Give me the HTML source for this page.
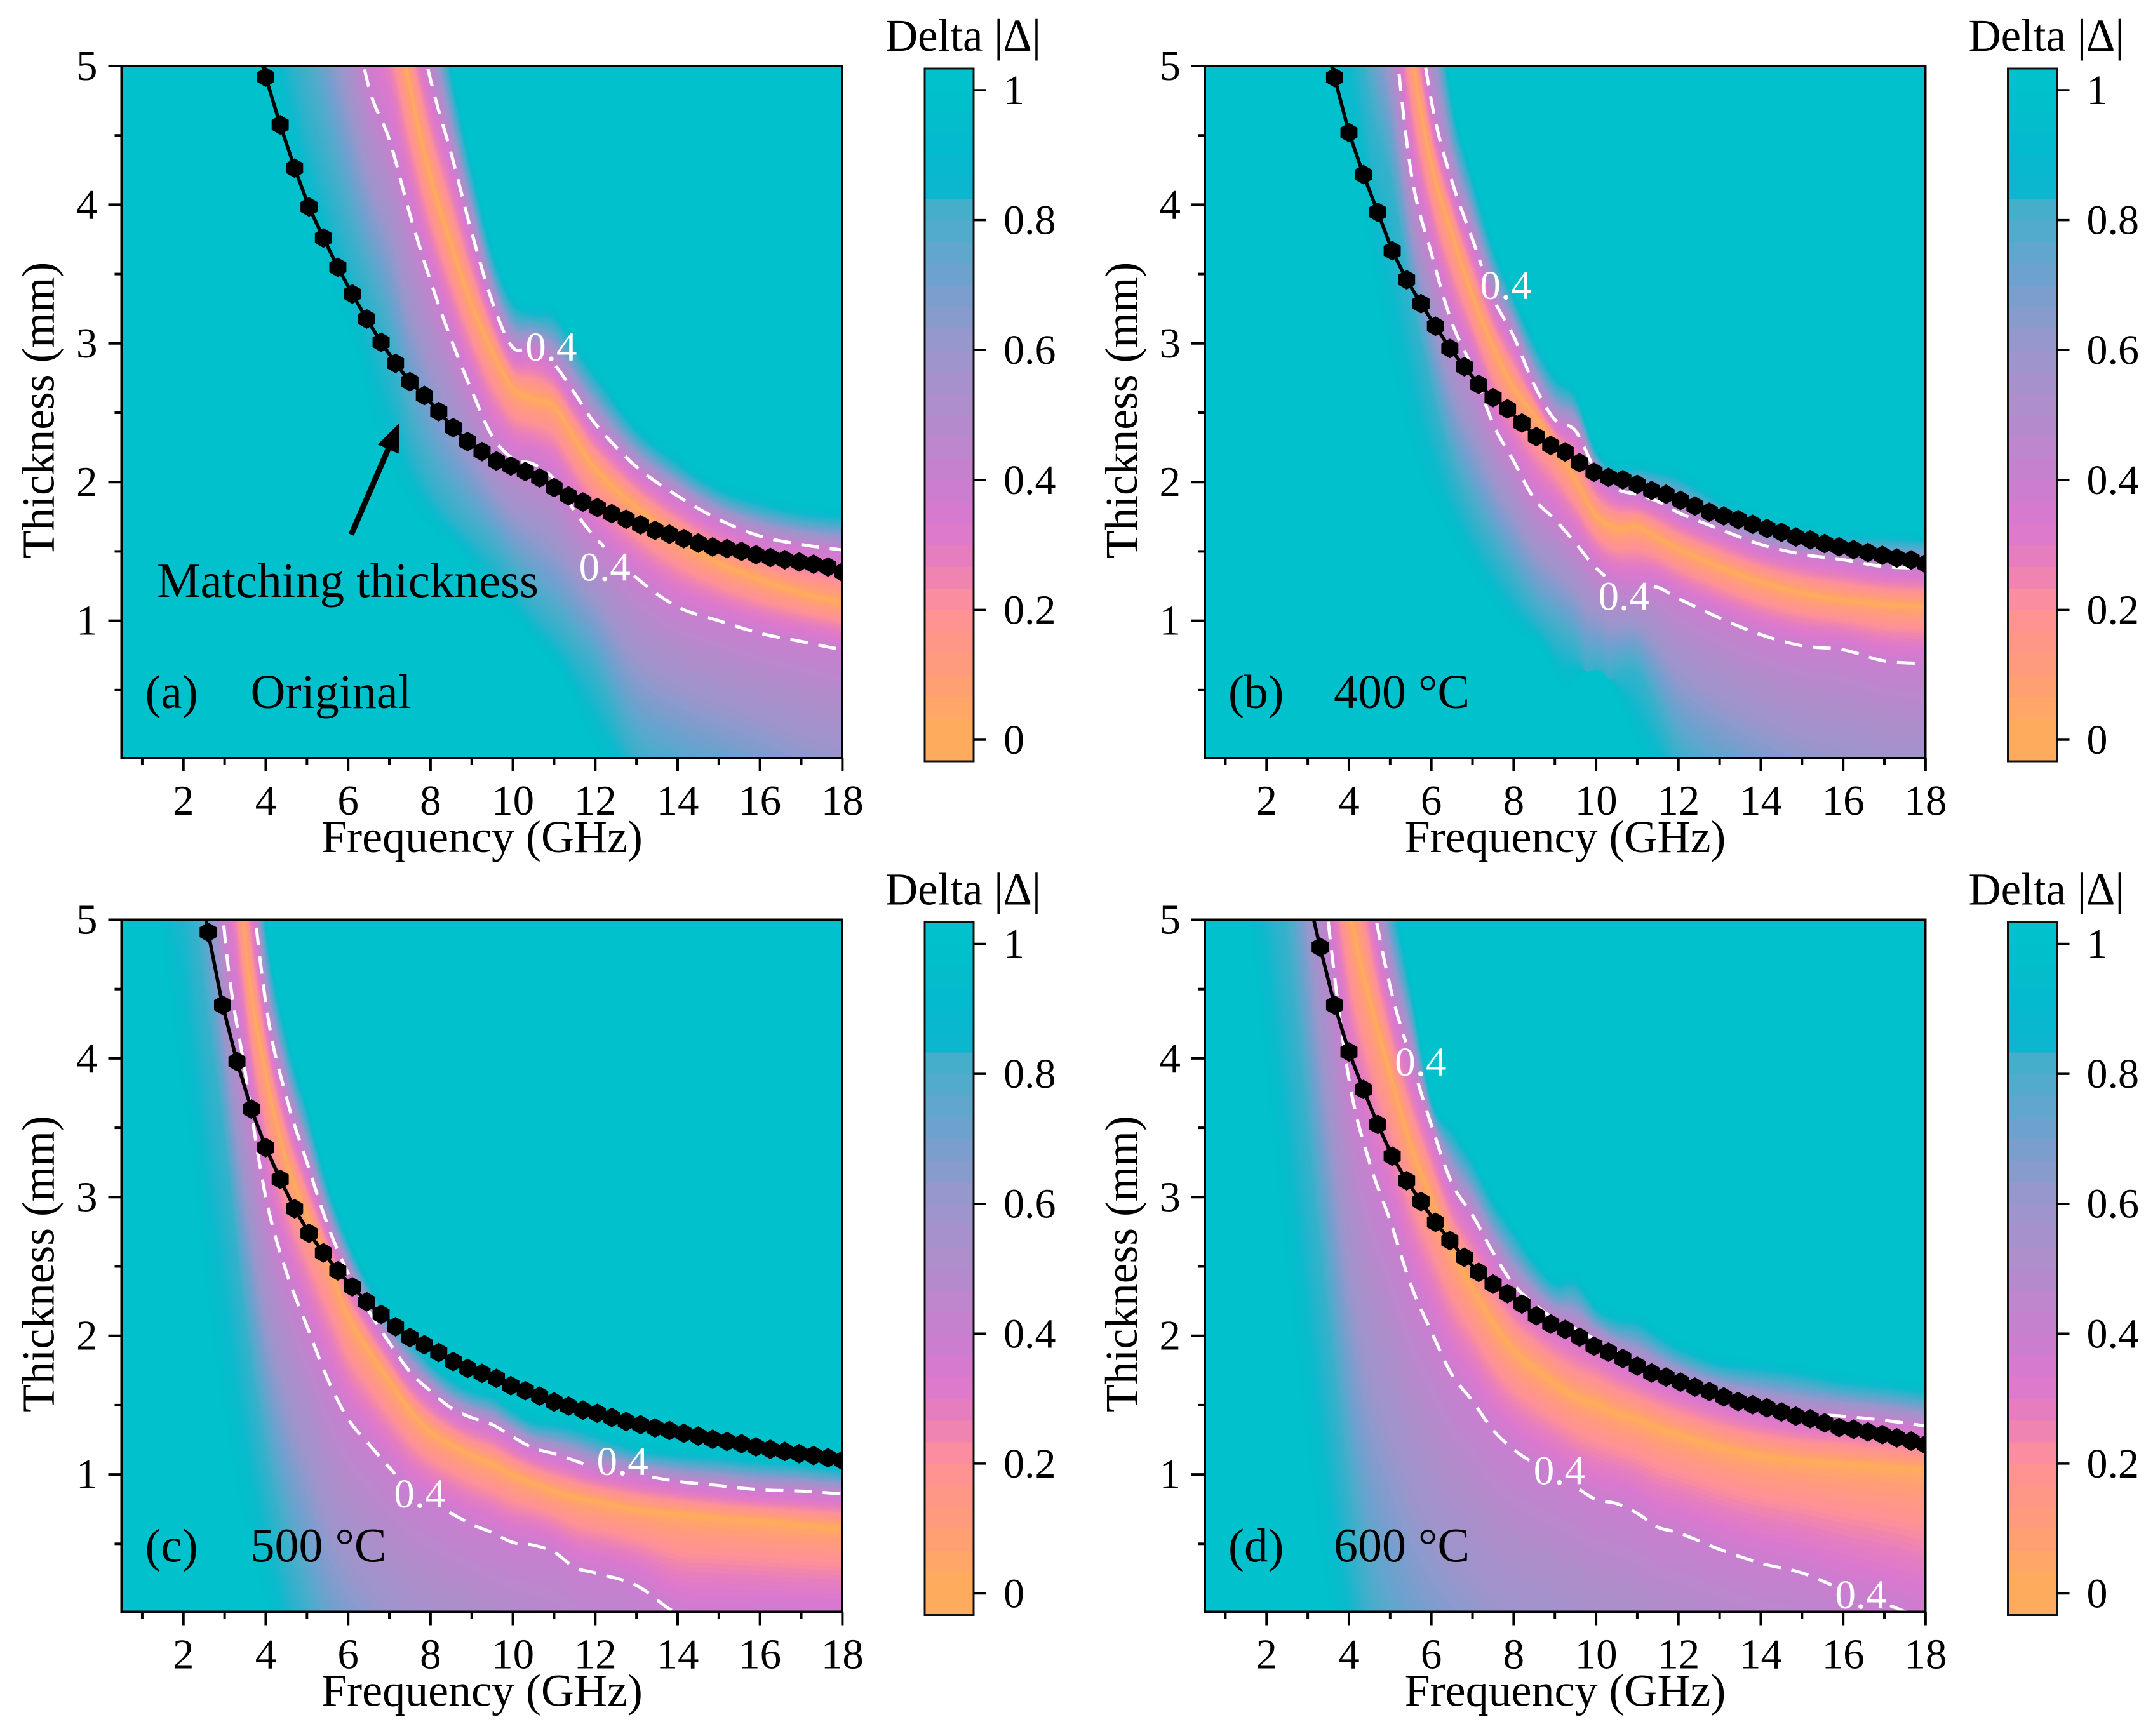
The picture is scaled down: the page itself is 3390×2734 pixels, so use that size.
<!DOCTYPE html>
<html lang="en">
<head>
<meta charset="utf-8">
<title>Delta maps of matching thickness versus frequency</title>
<style>
html,body{margin:0;padding:0;background:#fff;}
#figure{position:relative;width:3390px;height:2734px;overflow:hidden;background:#fff;}
#figure canvas{position:absolute;display:block;}
#overlay{position:absolute;left:0;top:0;}
#overlay text{font-family:"Liberation Serif","DejaVu Serif",serif;fill:#000;}
</style>
</head>
<body>
<div id="figure">
<svg id="overlay" width="3390" height="2734" viewBox="0 0 3390 2734" xmlns="http://www.w3.org/2000/svg"></svg>
</div>
<script>
/* ---------- shared tick values ---------- */
var xMajorTicks = [2,4,6,8,10,12,14,16,18];
var xMinorTicks = [1,3,5,7,9,11,13,15,17];
var yMajorTicks = [1,2,3,4,5];
var yMinorTicks = [0.5,1.5,2.5,3.5,4.5];
var colorbarTicks = [0,0.2,0.4,0.6,0.8,1];

/* ---------- frequency grids (GHz) ---------- */
var matchFreq = [0.5,0.85,1.2,1.55,1.9,2.25,2.6,2.95,3.3,3.65,4,4.35,4.7,5.05,5.4,5.75,6.1,6.45,6.8,7.15,7.5,7.85,8.2,8.55,8.9,9.25,9.6,9.95,10.3,10.65,11,11.35,11.7,12.05,12.4,12.75,13.1,13.45,13.8,14.15,14.5,14.85,15.2,15.55,15.9,16.25,16.6,16.95,17.3,17.65,18];
var contourFreq = [2,2.5,3,3.5,4,4.5,5,5.5,6,6.5,7,7.5,8,8.5,9,9.5,10,10.5,11,11.5,12,13,14,15,16,17,18];

/* ---------- colour scale of the colour bar: delta value, colour ---------- */
var colorStops = [0,0.1,0.2,0.27,0.33,0.4,0.5,0.6,0.7,0.83,0.84,0.9,1];
var colorValues = ['#FFAE57','#FF9D78','#FF9196','#E87FBB','#DB78CF','#C97FCF','#B18CCB','#9D95CC','#74A0CE','#3FB0CB','#0CB5CE','#05B9CE','#00C1CC'];
/* ---------- colour scale of the maps, softer near the outer edge ---------- */
var mapStops = [0,0.1,0.2,0.27,0.33,0.4,0.5,0.6,0.7,0.8,0.88,0.94,1];
var mapValues = ['#FFAE57','#FF9D78','#FF9196','#E87FBB','#DB78CF','#C97FCF','#B18CCB','#9D95CC','#74A0CE','#48ADCB','#2AB3CC','#0ABACD','#00C1CC'];

/* ---------- panel (a) Original: thickness in mm ---------- */
var aMatchT = [5.31,4.92,4.576,4.264,3.984,3.76,3.548,3.356,3.176,3.008,2.856,2.724,2.624,2.508,2.392,2.292,2.22,2.152,2.116,2.076,2.03,1.96,1.9,1.856,1.816,1.772,1.732,1.692,1.652,1.624,1.592,1.56,1.532,1.52,1.5,1.476,1.456,1.44,1.424,1.408,1.388,1.35];
var aLowerEdge = [9,8.5,8,7.4,6.4,5.4,4.7,4.2,3.75,3.35,2.95,2.35,2,1.78,1.63,1.5,1.3,1.1,0.95,0.78,0.6,0,-0.2,-0.35,-0.5,-0.7,-0.85];
var aLower04 = [20,17,15,13,11.5,10,8,6.5,5.6,4.85,4.47,3.93,3.45,3.03,2.66,2.33,2.17,2.13,2.02,1.79,1.6,1.31,1.1,1,0.91,0.85,0.79];
var aRidge = [25,22,19,17,15,13,11,9.5,8,6.8,5.7,4.85,4.2,3.72,3.28,2.95,2.68,2.6,2.55,2.32,2.1,1.82,1.6,1.42,1.3,1.2,1.13];
var aUpper04 = [26,23,20,18,16,14,12,10.5,9,7.9,6.6,5.6,4.9,4.37,3.8,3.3,2.97,2.97,2.85,2.64,2.42,2.11,1.9,1.73,1.61,1.55,1.51];
var aUpperEdge = [26.6,23.6,20.6,18.6,16.6,14.6,12.6,11,9.6,8.4,7.2,6.3,5.8,4.95,4.25,3.65,3.3,3.22,3.2,2.98,2.77,2.38,2.14,1.95,1.85,1.78,1.75];

/* ---------- panel (b) 400 C ---------- */
var bMatchT = [5.34,4.917,4.52,4.217,3.946,3.668,3.459,3.286,3.124,2.964,2.832,2.704,2.609,2.528,2.426,2.328,2.264,2.217,2.139,2.071,2.034,2.017,1.983,1.939,1.912,1.868,1.827,1.783,1.756,1.729,1.695,1.665,1.638,1.604,1.584,1.557,1.533,1.513,1.492,1.472,1.452,1.438,1.411];
var bLowerEdge = [10,9,8,7,5.8,4.7,4.15,3.35,2.65,2.1,1.75,1.5,1.27,1.05,0.9,0.78,0.52,0.62,0.62,0.32,0,-0.3,-0.5,-0.7,-0.85,-1,-1.1];
var bLower04 = [16,14,12,10,8,6.5,5.5,4.25,3.65,3.15,2.82,2.42,2.15,1.88,1.73,1.56,1.38,1.27,1.25,1.24,1.16,1.02,0.9,0.82,0.79,0.71,0.69];
var bRidge = [20,18,16,13,11,8.5,6.4,5.15,4.3,3.8,3.35,2.98,2.68,2.49,2.27,2.02,1.76,1.67,1.68,1.6,1.52,1.39,1.28,1.2,1.15,1.12,1.1];
var bUpper04 = [21,19,17,14,12,9.5,7.4,5.8,4.75,4.17,3.75,3.33,3.05,2.7,2.45,2.37,2.08,1.95,1.91,1.86,1.78,1.66,1.55,1.48,1.44,1.39,1.38];
var bUpperEdge = [21.5,19.5,17.5,14.6,12.6,10,8,6.8,5.9,4.75,4.18,3.68,3.33,3,2.75,2.62,2.22,2.09,2.1,2.07,2.03,1.86,1.73,1.64,1.6,1.6,1.58];

/* ---------- panel (c) 500 C ---------- */
var cMatchT = [5.56,4.91,4.384,3.978,3.635,3.357,3.128,2.916,2.739,2.598,2.468,2.353,2.245,2.154,2.065,1.987,1.935,1.879,1.814,1.765,1.729,1.693,1.64,1.604,1.565,1.523,1.493,1.464,1.441,1.411,1.382,1.359,1.336,1.317,1.297,1.277,1.254,1.238,1.222,1.199,1.182,1.166,1.15,1.137,1.12,1.101];
var cLowerEdge = [5.7,4.4,3.35,2.05,1.1,0.4,-0.1,-0.6,-0.9,-1.1,-1.3,-1.4,-1.5,-1.6,-1.7,-1.8,-1.9,-1.95,-2,-2.05,-2.1,-2.15,-2.2,-2.25,-2.3,-2.35,-2.4];
var cLower04 = [10,7,4.9,3.9,3,2.46,2.07,1.69,1.4,1.22,1.05,0.89,0.8,0.72,0.64,0.58,0.51,0.49,0.44,0.33,0.29,0.2,0,-0.02,-0.03,-0.04,-0.05];
var cRidge = [14,10,7,4.85,3.9,3.27,2.88,2.55,2.15,1.9,1.68,1.47,1.31,1.22,1.14,1.08,1,0.94,0.88,0.84,0.81,0.75,0.72,0.69,0.67,0.64,0.62];
var cUpper04 = [16,11.5,8,5.8,4.4,3.72,3.25,2.8,2.45,2.18,1.95,1.74,1.6,1.48,1.41,1.36,1.27,1.19,1.15,1.1,1.05,1,0.95,0.92,0.89,0.88,0.86];
var cUpperEdge = [17,12.5,9,6.5,4.95,4.15,3.63,3.08,2.68,2.37,2.13,1.98,1.8,1.68,1.6,1.56,1.46,1.38,1.36,1.33,1.28,1.18,1.14,1.12,1.09,1.07,1.03];

/* ---------- panel (d) 600 C ---------- */
var dMatchT = [5.25,4.802,4.384,4.047,3.776,3.524,3.295,3.118,2.968,2.818,2.687,2.566,2.458,2.373,2.304,2.229,2.144,2.085,2.046,1.99,1.925,1.882,1.836,1.781,1.732,1.702,1.666,1.63,1.598,1.559,1.526,1.503,1.48,1.451,1.421,1.402,1.372,1.339,1.326,1.307,1.287,1.264,1.241,1.215];
var dLowerEdge = [5.9,4.7,3.35,2,0.75,-0.2,-0.7,-1,-1.2,-1.3,-1.4,-1.5,-1.55,-1.55,-1.6,-1.65,-1.7,-1.75,-1.8,-1.85,-1.9,-1.95,-2,-2.05,-2.1,-2.15,-2.2];
var dLower04 = [12,9,6.5,4.98,3.85,3.25,2.83,2.37,2.03,1.72,1.53,1.32,1.18,1.08,1,0.91,0.82,0.79,0.72,0.62,0.58,0.46,0.36,0.29,0.17,0.07,-0.05];
var dRidge = [16,12,8,6.2,5.1,4.43,3.9,3.38,3,2.63,2.35,2.1,1.9,1.77,1.66,1.56,1.51,1.44,1.4,1.34,1.29,1.2,1.14,1.1,1.08,1.06,1.04];
var dUpper04 = [18,14,10,8,6.6,5.3,4.52,4,3.52,3.1,2.87,2.6,2.37,2.23,2.12,2.05,1.97,1.88,1.8,1.73,1.67,1.57,1.49,1.44,1.42,1.39,1.35];
var dUpperEdge = [19,15,11,9,7.2,6.2,5.25,4.5,3.7,3.48,3.25,2.97,2.75,2.53,2.38,2.39,2.2,2.12,2.1,2,1.91,1.8,1.77,1.73,1.67,1.64,1.6];

/* ---------- contour label anchors: frequency, thickness ---------- */
var aLabelF = [10.93,12.23];
var aLabelT = [2.976,1.39];
var bLabelF = [7.81,10.68];
var bLabelT = [3.42,1.18];
var cLabelF = [12.66,7.74];
var cLabelT = [1.097,0.863];
var dLabelF = [5.74,9.11,16.43];
var dLabelT = [3.977,1.03,0.135];

var panels = [
 {id:'a',tag:'(a)',title:'Original',left:191.5,top:104,matchT:aMatchT,lowerEdge:aLowerEdge,lower04:aLower04,ridge:aRidge,upper04:aUpper04,upperEdge:aUpperEdge,labelF:aLabelF,labelT:aLabelT},
 {id:'b',tag:'(b)',title:'400 °C',left:1897,top:104,matchT:bMatchT,lowerEdge:bLowerEdge,lower04:bLower04,ridge:bRidge,upper04:bUpper04,upperEdge:bUpperEdge,labelF:bLabelF,labelT:bLabelT},
 {id:'c',tag:'(c)',title:'500 °C',left:191.5,top:1448.5,matchT:cMatchT,lowerEdge:cLowerEdge,lower04:cLower04,ridge:cRidge,upper04:cUpper04,upperEdge:cUpperEdge,labelF:cLabelF,labelT:cLabelT},
 {id:'d',tag:'(d)',title:'600 °C',left:1897,top:1448.5,matchT:dMatchT,lowerEdge:dLowerEdge,lower04:dLower04,ridge:dRidge,upper04:dUpper04,upperEdge:dUpperEdge,labelF:dLabelF,labelT:dLabelT}
];

var PLOT_W = 1134.5, PLOT_H = 1090, PX_PER_GHZ = 64.85, PX_PER_MM = 218.4;
var SVGNS = 'http://www.w3.org/2000/svg';
var overlay = document.getElementById('overlay');
var figure = document.getElementById('figure');

function make(tag, attrs, parent){
  var n = document.createElementNS(SVGNS, tag);
  for (var k in attrs) n.setAttribute(k, attrs[k]);
  parent.appendChild(n);
  return n;
}
/* Catmull-Rom interpolation on a non-uniform grid */
function interp(xs, ys, x){
  var last = xs.length - 1;
  if (x <= xs[0]) return ys[0];
  if (x >= xs[last]) return ys[last] + (ys[last] - ys[last-1]) * (x - xs[last]) / (xs[last] - xs[last-1]);
  var i = 1;
  while (xs[i] < x) i++;
  var h = xs[i] - xs[i-1], u = (x - xs[i-1]) / h;
  var s = (ys[i] - ys[i-1]) / h;
  var m0 = i > 1 ? (ys[i] - ys[i-2]) / (xs[i] - xs[i-2]) : s;
  var m1 = i < last ? (ys[i+1] - ys[i-1]) / (xs[i+1] - xs[i-1]) : s;
  var u2 = u * u, u3 = u2 * u;
  return (2*u3 - 3*u2 + 1) * ys[i-1] + (u3 - 2*u2 + u) * h * m0 + (-2*u3 + 3*u2) * ys[i] + (u3 - u2) * h * m1;
}
function hexRgb(h){ return [parseInt(h.substr(1,2),16),parseInt(h.substr(3,2),16),parseInt(h.substr(5,2),16)]; }
function colorAt(stops, values, v){
  var i = 1;
  while (i < stops.length - 1 && stops[i] < v) i++;
  var a = hexRgb(values[i-1]), b = hexRgb(values[i]);
  var u = Math.max(0, Math.min(1, (v - stops[i-1]) / (stops[i] - stops[i-1])));
  return [a[0]+(b[0]-a[0])*u, a[1]+(b[1]-a[1])*u, a[2]+(b[2]-a[2])*u];
}
var BANDS = 30, MAP_BANDS = 60;
var lut = [], mapLut = [];
for (var li = 0; li <= BANDS; li++) lut.push(colorAt(colorStops, colorValues, Math.min(1, (li + 0.5) / BANDS)));
for (var mi = 0; mi <= MAP_BANDS; mi++) mapLut.push(colorAt(mapStops, mapValues, Math.min(1, (mi + 0.5) / MAP_BANDS)));

function drawHeatmap(p){
  var c = document.createElement('canvas');
  
  
  var x0 = Math.floor(p.left), y0 = Math.floor(p.top);
  var W = 1136, H = 1091;
  c.width = W; c.height = H;
  c.style.left = x0 + 'px';
  c.style.top = y0 + 'px';
  figure.insertBefore(c, overlay);
  var ctx = c.getContext('2d');
  var img = ctx.createImageData(W, H), d = img.data;
  var vals = [1,0.85,0.4,0,0.4,0.95,1];
  for (var px = 0; px < W; px++){
    var f = (x0 + px + 0.5 - p.left) / PX_PER_GHZ + 0.5;
    var k = [interp(contourFreq,p.lowerEdge,f+0.8),interp(contourFreq,p.lowerEdge,f),interp(contourFreq,p.lower04,f),interp(contourFreq,p.ridge,f),interp(contourFreq,p.upper04,f),interp(contourFreq,p.upperEdge,f),0];
    k[6] = k[5] + 0.06;
    for (var m = 1; m < 7; m++) if (k[m] <= k[m-1]) k[m] = k[m-1] + 0.0001;
    for (var py = 0; py < H; py++){
      var t = 5 - (y0 + py + 0.5 - p.top) / PX_PER_MM;
      var v = 1;
      if (t > k[0] && t < k[6]){
        var j = 1;
        while (k[j] < t) j++;
        var u = (t-k[j-1]) / (k[j]-k[j-1]);
        /* the well around the ridge is narrow: delta climbs fast next to it */
        if (j === 3) u = 1 - Math.pow(1 - u, 0.72);
        if (j === 4) u = Math.pow(u, 0.72);
        v = vals[j-1] + (vals[j]-vals[j-1]) * u;
      }
      var col = mapLut[Math.min(MAP_BANDS, Math.floor(v * MAP_BANDS))];
      var o = (py * W + px) * 4;
      d[o] = col[0]; d[o+1] = col[1]; d[o+2] = col[2]; d[o+3] = 255;
    }
  }
  ctx.putImageData(img, 0, 0);
}

function contourPath(p, series, xOf, yOf){
  var path = '', pen = false;
  for (var f = contourFreq[0]; f <= 18.0001; f += 0.02){
    var t = interp(contourFreq, series, f);
    var x = xOf(f), y = yOf(t);
    var hidden = t > 5.2 || t < -0.05;
    for (var i = 0; i < p.labelF.length && !hidden; i++){
      if (Math.abs(x - xOf(p.labelF[i])) < 46 && Math.abs(y - yOf(p.labelT[i])) < 30) hidden = true;
    }
    if (hidden){ pen = false; continue; }
    path += (pen ? 'L' : 'M') + x.toFixed(1) + ' ' + y.toFixed(1);
    pen = true;
  }
  return path;
}

function drawPanel(p){
  var L = p.left, T = p.top, R = L + PLOT_W, B = T + PLOT_H;
  function xOf(f){ return L + (f - 0.5) * PX_PER_GHZ; }
  function yOf(t){ return T + (5 - t) * PX_PER_MM; }

  drawHeatmap(p);

  var g = make('g', {}, overlay);
  
  

  var defs = make('defs', {}, g);
  var clip = make('clipPath', {id:'clip-' + p.id}, defs);
  make('rect', {x:L, y:T, width:PLOT_W, height:PLOT_H}, clip);

  var plot = make('g', {'clip-path':'url(#clip-' + p.id + ')'}, g);
  
  

  var up = make('path', {d:contourPath(p, p.upper04, xOf, yOf), fill:'none', stroke:'#fff', 'stroke-width':5, 'stroke-dasharray':'28 17'}, plot);
  
  
  var lo = make('path', {d:contourPath(p, p.lower04, xOf, yOf), fill:'none', stroke:'#fff', 'stroke-width':5, 'stroke-dasharray':'28 17'}, plot);
  
  

  for (var q = 0; q < p.labelF.length; q++){
    var cl = make('text', {x:xOf(p.labelF[q]), y:yOf(p.labelT[q]) + 22, 'font-size':65, 'text-anchor':'middle', style:'fill:#fff'}, g);
    
    
    cl.textContent = '0.4';
  }

  var freqs = matchFreq.slice(matchFreq.length - p.matchT.length);
  var pts = freqs.map(function(f, i){ return xOf(f).toFixed(1) + ',' + yOf(p.matchT[i]).toFixed(1); }).join(' ');
  var line = make('polyline', {points:pts, fill:'none', stroke:'#000', 'stroke-width':5.5}, plot);
  
  
  freqs.forEach(function(f, i){
    var cx = xOf(f), cy = yOf(p.matchT[i]), r = 15.5, hex = [];
    for (var a = 0; a < 6; a++){
      var ang = Math.PI / 2 + a * Math.PI / 3;
      hex.push((cx + r * Math.cos(ang)).toFixed(1) + ',' + (cy + r * Math.sin(ang)).toFixed(1));
    }
    var mk = make('polygon', {points:hex.join(' '), fill:'#000'}, plot);
    
    
  });

  var frame = make('rect', {x:L, y:T, width:PLOT_W, height:PLOT_H, fill:'none', stroke:'#000', 'stroke-width':4}, g);
  
  

  xMajorTicks.forEach(function(v){
    var tick = make('line', {x1:xOf(v), x2:xOf(v), y1:B, y2:B + 21, stroke:'#000', 'stroke-width':4}, g);
    
    
    var lab = make('text', {x:xOf(v), y:B + 89, 'font-size':67, 'text-anchor':'middle'}, g);
    
    
    lab.textContent = v;
  });
  xMinorTicks.forEach(function(v){
    var tick = make('line', {x1:xOf(v), x2:xOf(v), y1:B, y2:B + 11, stroke:'#000', 'stroke-width':4}, g);
    
    
  });
  yMajorTicks.forEach(function(v){
    var tick = make('line', {x1:L, x2:L - 21, y1:yOf(v), y2:yOf(v), stroke:'#000', 'stroke-width':4}, g);
    
    
    var lab = make('text', {x:L - 38, y:yOf(v) + 22, 'font-size':67, 'text-anchor':'end'}, g);
    
    
    lab.textContent = v;
  });
  yMinorTicks.forEach(function(v){
    var tick = make('line', {x1:L, x2:L - 11, y1:yOf(v), y2:yOf(v), stroke:'#000', 'stroke-width':4}, g);
    
    
  });

  var xt = make('text', {x:L + 567.5, y:B + 148, 'font-size':72, 'text-anchor':'middle'}, g);
  
  
  xt.textContent = 'Frequency (GHz)';
  var yt = make('text', {transform:'translate(' + (L - 107) + ' ' + (T + 542) + ') rotate(-90)', 'font-size':71.5, 'text-anchor':'middle'}, g);
  
  
  yt.textContent = 'Thickness (mm)';

  var tag = make('text', {x:L + 37, y:T + 1011, 'font-size':75}, g);
  
  
  tag.textContent = p.tag;
  var ttl = make('text', {x:L + 203, y:T + 1011, 'font-size':76}, g);
  
  
  ttl.textContent = p.title;

  /* colour bar */
  var cbL = L + 1264.5, cbR = cbL + 77, cbT = T + 4, cbB = T + 1095;
  function vOf(v){ return T + 38 + (1 - v) * 1023; }
  var cb = make('g', {}, g);
  
  
  for (var b = 0; b <= BANDS + 1; b++){
    var yHi = Math.max(cbT, vOf(b / BANDS));
    var yLo = Math.min(cbB, vOf((b - 1) / BANDS));
    var bandCol = lut[Math.min(BANDS, Math.max(0, b - 1))];
    var seg = make('rect', {x:cbL, y:yHi, width:cbR - cbL, height:Math.max(0, yLo - yHi) + 0.6, fill:'rgb(' + bandCol.map(Math.round).join(',') + ')'}, cb);
    
    
  }
  var cbFrame = make('rect', {x:cbL, y:cbT, width:cbR - cbL, height:cbB - cbT, fill:'none', stroke:'#111', 'stroke-width':3}, cb);
  
  
  colorbarTicks.forEach(function(v){
    var tick = make('line', {x1:cbR, x2:cbR + 20, y1:vOf(v), y2:vOf(v), stroke:'#000', 'stroke-width':3.5}, cb);
    
    
    var lab = make('text', {x:cbR + 47, y:vOf(v) + 22, 'font-size':66}, cb);
    
    
    lab.textContent = v;
  });
  var cbTitle = make('text', {x:L + 1202.5, y:T - 24, 'font-size':72, textLength:245, lengthAdjust:'spacingAndGlyphs'}, cb);
  
  
  cbTitle.textContent = 'Delta |Δ|';

  if (p.id === 'a'){
    var ann = make('text', {x:247, y:940, 'font-size':77}, g);
    
    
    ann.textContent = 'Matching thickness';
    var tx = 553, ty = 842, hx = 629, hy = 666;
    var len = Math.sqrt((hx-tx)*(hx-tx) + (hy-ty)*(hy-ty));
    var ux = (hx-tx)/len, uy = (hy-ty)/len;
    var bx = hx - ux*45, by = hy - uy*45;
    var shaft = make('line', {x1:tx, y1:ty, x2:bx, y2:by, stroke:'#000', 'stroke-width':9}, g);
    
    
    var head = make('polygon', {points:hx + ',' + hy + ' ' + (bx - uy*18) + ',' + (by + ux*18) + ' ' + (bx + uy*18) + ',' + (by - ux*18), fill:'#000'}, g);
    
    
  }
}
panels.forEach(drawPanel);
</script>
</body>
</html>
